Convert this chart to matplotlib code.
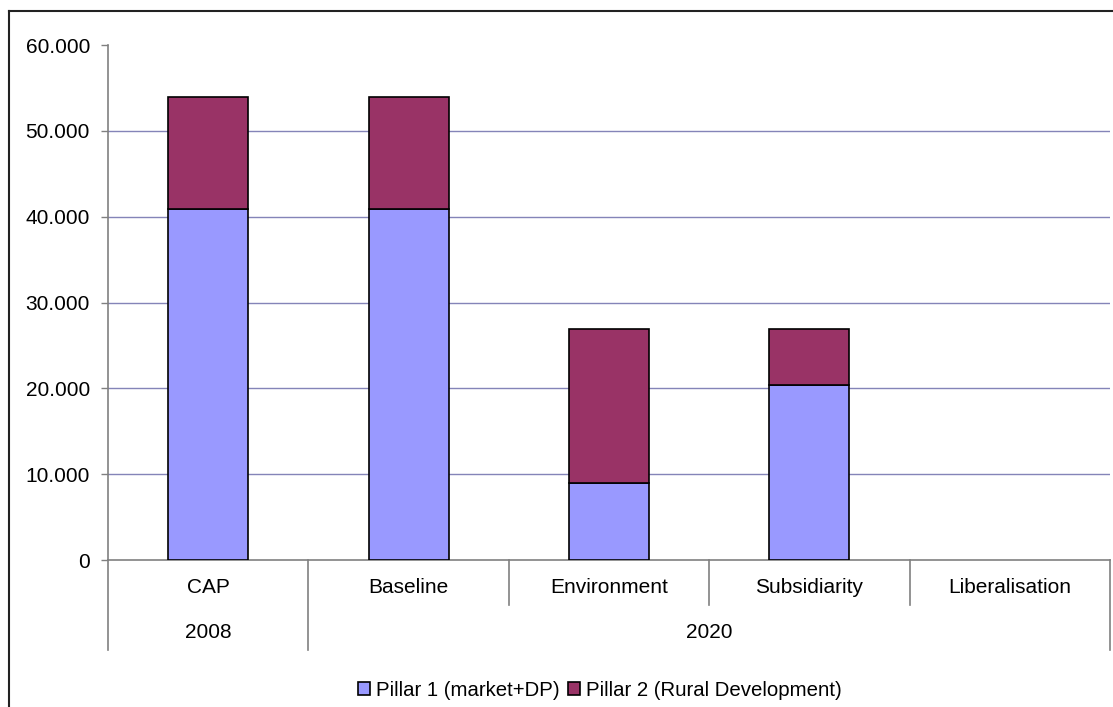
import matplotlib
matplotlib.use('Agg')
import matplotlib.pyplot as plt
from matplotlib.ticker import FuncFormatter
from matplotlib.lines import Line2D
import numpy as np

plt.rcParams['font.family'] = ['Liberation Sans', 'DejaVu Sans']

# CAP budget by scenario (thousands)
scenarios = ['CAP', 'Baseline', 'Environment', 'Subsidiarity', 'Liberalisation']
years = ['2008', '2020']
pillar1 = [40900, 40900, 9000, 20400, 0]
pillar2 = [13000, 13000, 17900, 6500, 0]

W, H = 1113, 707
fig = plt.figure(figsize=(W / 100, H / 100), dpi=100)
ax = fig.add_axes([108 / W, (H - 560) / H, 1002 / W, 515 / H])

x = np.arange(len(scenarios))
# empty bars get no outline
lw1 = [1.2 if v > 0 else 0 for v in pillar1]
lw2 = [1.2 if v > 0 else 0 for v in pillar2]
ax.bar(x, pillar1, width=0.4, color='#9999ff', edgecolor='black', linewidth=lw1,
       label='Pillar 1 (market+DP)', zorder=3)
ax.bar(x, pillar2, width=0.4, bottom=pillar1, color='#993366', edgecolor='black',
       linewidth=lw2, label='Pillar 2 (Rural Development)', zorder=3)

ax.set_xlim(-0.5, 4.5)
ax.set_ylim(0, 60000)
yticks = np.arange(0, 60001, 10000)
ax.set_yticks(yticks)
ax.yaxis.set_major_formatter(FuncFormatter(lambda v, p: f"{int(v):,}".replace(',', '.')))
for yv in yticks[1:-1]:
    ax.axhline(yv, color='#8484b8', linewidth=1.0, zorder=0)
ax.tick_params(axis='y', direction='out', length=5, width=1, color='#808080',
               labelsize=15, pad=8)

ax.set_xticks(x)
ax.set_xticklabels(scenarios, fontsize=15)
ax.tick_params(axis='x', length=0, pad=13)

for s in ['top', 'right']:
    ax.spines[s].set_visible(False)
for s in ['left', 'bottom']:
    ax.spines[s].set_color('#808080')
    ax.spines[s].set_linewidth(1.2)

# two-level category axis: separators and year labels
tr = ax.get_xaxis_transform()
for xs in [1.5, 2.5, 3.5]:
    ax.add_line(Line2D([xs, xs], [0, -45 / 515], transform=tr, color='#808080',
                       lw=1.2, clip_on=False))
for xs in [-0.5, 0.5, 4.5]:
    ax.add_line(Line2D([xs, xs], [0, -90 / 515], transform=tr, color='#808080',
                       lw=1.2, clip_on=False))
ax.text(0, -73 / 515, years[0], transform=tr, ha='center', va='center', fontsize=15)
ax.text(2.5, -73 / 515, years[1], transform=tr, ha='center', va='center', fontsize=15)

leg = fig.legend(loc='center', bbox_to_anchor=(600 / W, 1 - 690 / H), ncol=2,
                 frameon=False, fontsize=14.7, handlelength=0.6, handleheight=0.6,
                 handletextpad=0.3, columnspacing=0.4)

# chart area border
fig.add_artist(Line2D([9 / W, 9 / W], [0, 1 - 11 / H], transform=fig.transFigure,
                      color='#222222', lw=1.5))
fig.add_artist(Line2D([9 / W, 1], [1 - 11 / H, 1 - 11 / H], transform=fig.transFigure,
                      color='#222222', lw=1.5))

fig.savefig('out.png', dpi=100)
